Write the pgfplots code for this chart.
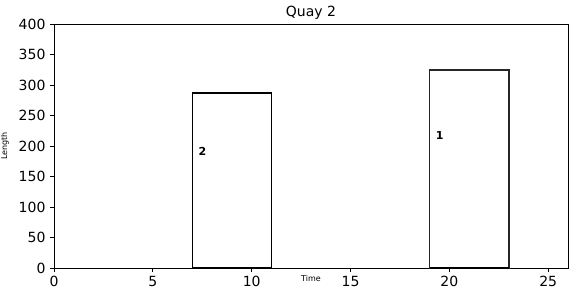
\documentclass[border=0pt]{standalone}
\usepackage{fontspec}
\setmainfont{DejaVu Sans}
\usepackage{pgfplots}
\pgfplotsset{compat=1.18}
\begin{document}
\begin{tikzpicture}
\useasboundingbox (-54pt,-30pt) rectangle (523pt,268pt);
\begin{axis}[
  at={(0,0)}, anchor=south west,
  scale only axis, width=514pt, height=244pt,
  xmin=0, xmax=26, ymin=0, ymax=400,
  xtick={0,5,10,15,20,25}, ytick={0,50,...,400},
  tick align=outside, major tick length=4pt,
  xtick pos=bottom, ytick pos=left,
  axis line style={line width=0.9pt},
  every tick/.style={line width=0.9pt, black},
  /pgf/number format/assume math mode=true,
  tick label style={font=\fontsize{14}{16}\selectfont},
  xticklabel style={yshift=-1pt},
  yticklabel style={xshift=-1pt},
  every axis title shift=0pt,
  title={Quay 2},
  title style={font=\fontsize{14}{16}\selectfont, at={(axis description cs:0.5,1)}, anchor=south, inner sep=0pt, yshift=4pt},
  xlabel={Time},
  xlabel style={font=\fontsize{8}{9}\selectfont, at={(axis description cs:0.5,0)}, anchor=center, yshift=-11pt},
  ylabel={Length},
  ylabel style={font=\fontsize{8}{9}\selectfont, at={(axis description cs:-0.0953,0.5)}, anchor=center, rotate=0},
]
\addplot[black, line width=1.7pt, fill=white] coordinates {(7,0) (7,287) (11,287) (11,0)} -- cycle;
\addplot[black!85, line width=1.7pt, fill=white] coordinates {(19,0) (19,325) (23,325) (23,0)} -- cycle;
\addplot[black, line width=2pt] coordinates {(7,0) (11,0)};
\addplot[black, line width=2pt] coordinates {(19,0) (23,0)};
\node[anchor=west, inner sep=0pt, font=\fontsize{11}{12}\selectfont\bfseries] at (axis cs:7.3,191.3) {2};
\node[anchor=west, inner sep=0pt, font=\fontsize{11}{12}\selectfont\bfseries] at (axis cs:19.3,216.7) {1};
\end{axis}
\end{tikzpicture}
\end{document}
